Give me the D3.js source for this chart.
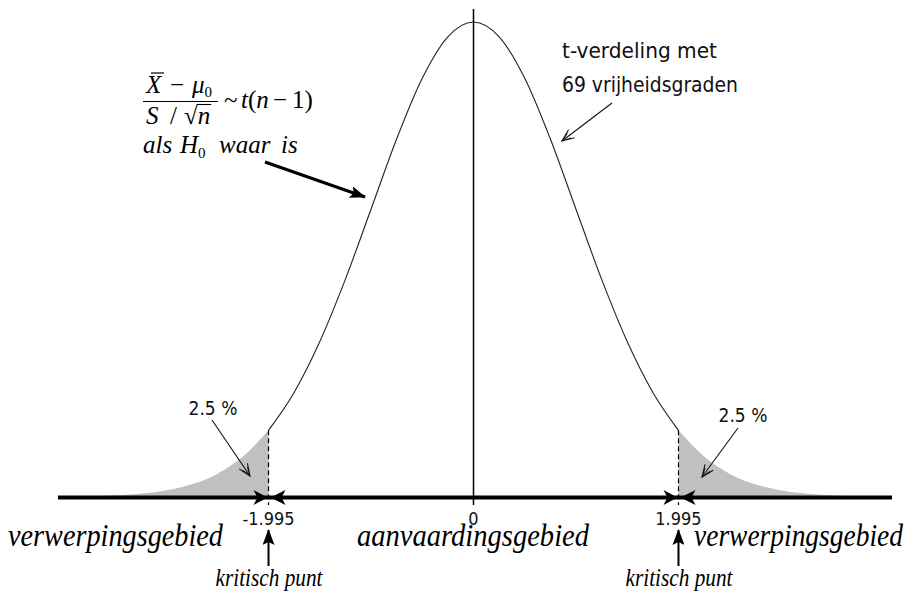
<!DOCTYPE html>
<html>
<head>
<meta charset="utf-8">
<script src="https://cdn.jsdelivr.net/npm/d3@7/dist/d3.min.js"></script>
<style>
  html, body { margin: 0; padding: 0; background: #fff; }
  svg { display: block; }
  .sans { font-family: "DejaVu Sans Condensed", "DejaVu Sans", sans-serif; fill: #111; }
  .serif { font-family: "Liberation Serif", "Times New Roman", serif; fill: #000; }
</style>
</head>
<body>
<svg id="chart" width="907" height="595"></svg>
<script>
// t-distribution with 69 degrees of freedom: density read at these t values
const tValues = [-4, -3.75, -3.5, -3.25, -3, -2.75, -2.5, -2.25, -1.995, -1.75, -1.5, -1.25, -1, -0.75, -0.5, -0.25,
                 0, 0.25, 0.5, 0.75, 1, 1.25, 1.5, 1.75, 1.995, 2.25, 2.5, 2.75, 3, 3.25, 3.5, 3.75, 4];
const density = [0.0003, 0.0006, 0.0013, 0.0027, 0.0054, 0.0104, 0.0191, 0.0334, 0.0558, 0.0869, 0.1293, 0.1815, 0.2402, 0.2992, 0.3502, 0.3851,
                 0.3975, 0.3851, 0.3502, 0.2992, 0.2402, 0.1815, 0.1293, 0.0869, 0.0558, 0.0334, 0.0191, 0.0104, 0.0054, 0.0027, 0.0013, 0.0006, 0.0003];
const criticalValues = [-1.995, 1.995];
const tickValues = [-1.995, 0, 1.995];
const tickLabels = ["-1.995", "0", "1.995"];
const tailLabels = ["2.5 %", "2.5 %"];
const regionLabels = ["verwerpingsgebied", "aanvaardingsgebied", "verwerpingsgebied"];
const criticalLabel = "kritisch punt";
const distLabel = ["t-verdeling met", "69 vrijheidsgraden"];

const pts = tValues.map((t, i) => ({ t, d: density[i] }));

const svg = d3.select("#chart");
const x = d3.scaleLinear().domain([-4, 4]).range([62.5, 884.5]);
const y = d3.scaleLinear().domain([0, 0.3975]).range([497, 22]);
const baseY = y(0);

// markers
const defs = svg.append("defs");
defs.append("marker").attr("id", "solidHead")
  .attr("viewBox", "0 0 16 12").attr("refX", 15).attr("refY", 6)
  .attr("markerWidth", 16).attr("markerHeight", 12).attr("markerUnits", "userSpaceOnUse")
  .attr("orient", "auto")
  .append("path").attr("d", "M0,0 L16,6 L0,12 L3,6 Z").attr("fill", "#000");
defs.append("marker").attr("id", "openHead")
  .attr("viewBox", "0 0 14 12").attr("refX", 13).attr("refY", 6)
  .attr("markerWidth", 14).attr("markerHeight", 12).attr("markerUnits", "userSpaceOnUse")
  .attr("orient", "auto")
  .append("path").attr("d", "M1,1 L13,6 L1,11 M4,3 L13,6 L4,9").attr("fill", "none")
  .attr("stroke", "#111").attr("stroke-width", 1.1);

// shaded tails
const area = d3.area().x(p => x(p.t)).y0(baseY).y1(p => y(p.d)).curve(d3.curveMonotoneX);
const lowTail = pts.filter(p => p.t <= criticalValues[0]);
const highTail = pts.filter(p => p.t >= criticalValues[1]);
[lowTail, highTail].forEach(tail => {
  svg.append("path").datum(tail).attr("d", area).attr("fill", "#c0c0c0");
});

// density curve over the acceptance region
const line = d3.line().x(p => x(p.t)).y(p => y(p.d)).curve(d3.curveMonotoneX);
svg.append("path").datum(pts.filter(p => p.t >= criticalValues[0] && p.t <= criticalValues[1]))
  .attr("d", line).attr("fill", "none").attr("stroke", "#222").attr("stroke-width", 1.1);

// centre line
svg.append("line").attr("x1", x(0)).attr("x2", x(0)).attr("y1", 9).attr("y2", baseY + 8)
  .attr("stroke", "#000").attr("stroke-width", 1.5);

// dashed lines at the critical values
criticalValues.forEach(c => {
  svg.append("line").attr("x1", x(c)).attr("x2", x(c))
    .attr("y1", y(density[tValues.indexOf(c)])).attr("y2", baseY + 8)
    .attr("stroke", "#000").attr("stroke-width", 1.2).attr("stroke-dasharray", "5,3");
});

// axis
svg.append("line").attr("x1", x(-4) - 4.5).attr("x2", x(4) + 7.5).attr("y1", baseY + 0.5).attr("y2", baseY + 0.5)
  .attr("stroke", "#000").attr("stroke-width", 4);

// converging arrowheads on the axis at each critical value
criticalValues.forEach(c => {
  const cx = x(c);
  svg.append("path").attr("d", `M${cx - 15},${baseY - 7} L${cx - 1},${baseY + 0.5} L${cx - 15},${baseY + 8} L${cx - 11},${baseY + 0.5} Z`).attr("fill", "#000");
  svg.append("path").attr("d", `M${cx + 17},${baseY - 7} L${cx + 2},${baseY + 0.5} L${cx + 17},${baseY + 8} L${cx + 13},${baseY + 0.5} Z`).attr("fill", "#000");
});

// tick labels
svg.selectAll("text.tick").data(tickValues).join("text")
  .attr("class", "sans tick")
  .attr("x", d => x(d)).attr("y", 525)
  .attr("text-anchor", "middle").attr("font-size", 18)
  .text((d, i) => tickLabels[i]);

// region labels: left rejection, acceptance, right rejection
const regionBox = [[8, 215], [357, 232], [694, 209]];
svg.selectAll("text.region").data(regionLabels).join("text")
  .attr("class", "serif region")
  .attr("x", (d, i) => regionBox[i][0]).attr("y", 546)
  .attr("textLength", (d, i) => regionBox[i][1]).attr("lengthAdjust", "spacingAndGlyphs")
  .attr("font-size", 32).attr("font-style", "italic")
  .text(d => d);

// critical point labels with arrows
criticalValues.forEach(c => {
  svg.append("line").attr("x1", x(c)).attr("x2", x(c)).attr("y1", 566).attr("y2", 530)
    .attr("stroke", "#000").attr("stroke-width", 2).attr("marker-end", "url(#solidHead)");
  svg.append("text").attr("class", "serif")
    .attr("x", x(c) - 53).attr("y", 586)
    .attr("textLength", 107).attr("lengthAdjust", "spacingAndGlyphs")
    .attr("font-size", 25).attr("font-style", "italic").text(criticalLabel);
});

// tail annotations
const tailAnn = [
  { lx: 213, ly: 415, from: [212, 420], to: [250, 476] },
  { lx: 743, ly: 422, from: [738, 428], to: [702, 477] }
];
tailAnn.forEach((a, i) => {
  svg.append("text").attr("class", "sans").attr("x", a.lx).attr("y", a.ly)
    .attr("text-anchor", "middle").attr("font-size", 19).text(tailLabels[i]);
  svg.append("line").attr("x1", a.from[0]).attr("y1", a.from[1]).attr("x2", a.to[0]).attr("y2", a.to[1])
    .attr("stroke", "#111").attr("stroke-width", 1.1).attr("marker-end", "url(#openHead)");
});

// distribution label
const distWidth = [155, 176];
svg.selectAll("text.dist").data(distLabel).join("text")
  .attr("class", "sans dist").attr("font-size", 20.5)
  .attr("x", 562).attr("y", (d, i) => 58 + i * 34)
  .attr("textLength", (d, i) => distWidth[i]).attr("lengthAdjust", "spacingAndGlyphs")
  .text(d => d);
svg.append("line").attr("x1", 612).attr("y1", 103).attr("x2", 562).attr("y2", 141)
  .attr("stroke", "#111").attr("stroke-width", 1.1).attr("marker-end", "url(#openHead)");

// test statistic formula
const f = svg.append("g").attr("class", "serif").attr("font-size", 25);
const num = f.append("text").attr("y", 93);
num.append("tspan").attr("x", 146).attr("font-style", "italic").text("X");
num.append("tspan").attr("x", 170).text("\u2212");
num.append("tspan").attr("x", 192).attr("font-style", "italic").text("\u03bc");
num.append("tspan").attr("font-size", 15).attr("dy", 4).text("0");
// bar over X
f.append("line").attr("x1", 151).attr("x2", 164).attr("y1", 73).attr("y2", 73)
  .attr("stroke", "#000").attr("stroke-width", 1.2);
f.append("line").attr("x1", 143).attr("x2", 218).attr("y1", 101.5).attr("y2", 101.5)
  .attr("stroke", "#000").attr("stroke-width", 1.2);
const den = f.append("text").attr("y", 124);
den.append("tspan").attr("x", 146).attr("font-style", "italic").text("S");
den.append("tspan").attr("x", 170).text("/");
const rootSign = den.append("tspan").attr("x", 184).text("\u221a");
const rootArg = den.append("tspan").attr("font-style", "italic").text("n");
// vinculum over the root argument
const argNode = rootArg.node();
const argX = argNode.getStartPositionOfChar(0).x;
const argW = argNode.getComputedTextLength();
const signBox = rootSign.node().getExtentOfChar(0);
f.append("line").attr("x1", argX - 1).attr("x2", argX + argW + 1)
  .attr("y1", signBox.y + 2.5).attr("y2", signBox.y + 2.5)
  .attr("stroke", "#000").attr("stroke-width", 1.1);
const rhs = f.append("text").attr("y", 108);
rhs.append("tspan").attr("x", 224).text("~");
rhs.append("tspan").attr("x", 241).attr("font-style", "italic").text("t");
rhs.append("tspan").text("(");
rhs.append("tspan").attr("font-style", "italic").text("n");
rhs.append("tspan").attr("x", 273).text("\u2212");
rhs.append("tspan").attr("x", 292).text("1)");
const cond = f.append("text").attr("y", 153).attr("font-style", "italic").attr("font-size", 25);
cond.append("tspan").attr("x", 143).text("als");
cond.append("tspan").attr("x", 180).text("H");
cond.append("tspan").attr("font-style", "normal").attr("font-size", 15).attr("dy", 5).text("0");
cond.append("tspan").attr("x", 219).attr("dy", -5).text("waar");
cond.append("tspan").attr("x", 281).text("is");

svg.append("line").attr("x1", 265).attr("y1", 162).attr("x2", 365).attr("y2", 197)
  .attr("stroke", "#000").attr("stroke-width", 3).attr("marker-end", "url(#solidHead)");
</script>
</body>
</html>
